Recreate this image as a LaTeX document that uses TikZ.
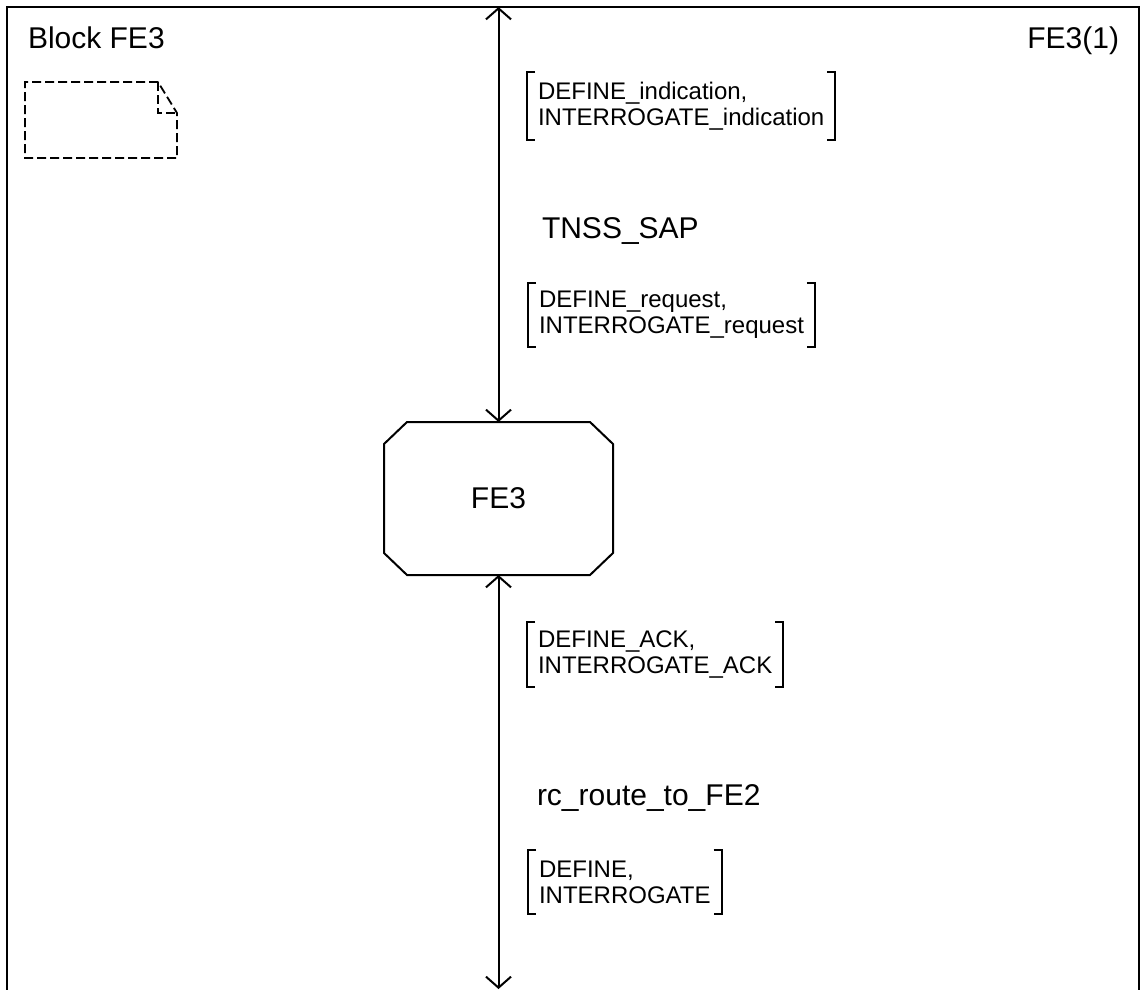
\documentclass[tikz,border=0pt]{standalone}
\usepackage{fontspec}
\setmainfont{Liberation Sans}
\usetikzlibrary{arrows.meta}
\newcommand\sigbrackets[1]{%
  \draw[brk] ([xshift=8pt]#1.north west) -- (#1.north west) -- (#1.south west) -- ([xshift=8pt]#1.south west);
  \draw[brk] ([xshift=-8pt]#1.north east) -- (#1.north east) -- (#1.south east) -- ([xshift=-8pt]#1.south east);}
\begin{document}
\begin{tikzpicture}[x=1pt,y=-1pt, line width=2pt,
  big/.style={font=\fontsize{30}{36}\selectfont, inner sep=0pt},
  msg/.style={font=\fontsize{24}{26}\selectfont, align=left, inner xsep=10pt, inner ysep=0pt, anchor=north west},
  sig/.style={line width=2pt, {Straight Barb[length=11pt,width=25pt]}-{Straight Barb[length=11pt,width=25pt]}},
  brk/.style={line width=2pt},
  frame/.style={line width=2.5pt},
  cmt/.style={dash pattern=on 9pt off 4pt, line width=1.8pt}]
\useasboundingbox (0,0) rectangle (1143,989);
\draw[frame] (7,995) -- (7,7) -- (1139,7) -- (1139,995);
\node[big, anchor=base west] (title) at (27,48) {Block FE3};
\node[big, anchor=base east] (page) at (1120,48) {FE3(1)};
% comment symbol
\draw[cmt] (158,82) -- (25,82) -- (25,158) -- (177,158) -- (177,113) -- cycle;
\draw[cmt] (158,82) -- (158,113) -- (177,113);
% FE3 process
\coordinate (top) at (498.5,7);
\coordinate (bot) at (498.5,989);
\node[big, minimum width=227pt, minimum height=151pt] (fe3) at (498.5,498.5) {FE3};
\draw ([xshift=23pt]fe3.north west) -- ([xshift=-23pt]fe3.north east) -- ([yshift=-22pt]fe3.north east)
  -- ([yshift=22pt]fe3.south east) -- ([xshift=-23pt]fe3.south east) -- ([xshift=23pt]fe3.south west)
  -- ([yshift=22pt]fe3.south west) -- ([yshift=-22pt]fe3.north west) -- cycle;
\draw[sig] (top) -- (fe3.north);
\draw[sig] (fe3.south) -- (bot);
% labels
\node[msg, minimum height=66pt] (m1) at (527,72) {DEFINE\_indication,\\INTERROGATE\_indication};
\sigbrackets{m1}
\node[big, anchor=base west] (sap) at (541,238) {TNSS\_SAP};
\node[msg, minimum height=62pt] (m2) at (528,283) {DEFINE\_request,\\INTERROGATE\_request};
\sigbrackets{m2}
\node[msg, minimum height=63pt] (m3) at (527,622) {DEFINE\_ACK,\\INTERROGATE\_ACK};
\sigbrackets{m3}
\node[big, anchor=base west] (rc) at (536,805) {rc\_route\_to\_FE2};
\node[msg, minimum height=62pt] (m4) at (528,850) {DEFINE,\\INTERROGATE};
\sigbrackets{m4}
\end{tikzpicture}
\end{document}
